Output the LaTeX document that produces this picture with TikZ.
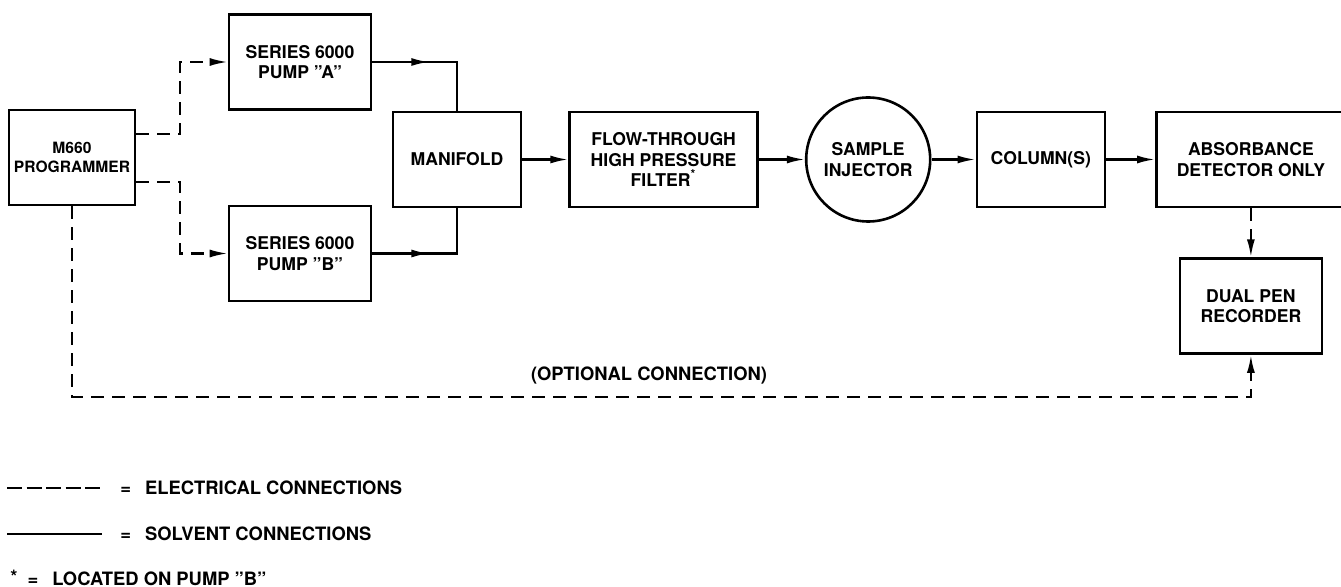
\documentclass[tikz,border=0pt]{standalone}
\usepackage{fontspec}
\setmainfont{TeX Gyre Heros}
\usetikzlibrary{arrows.meta,positioning,calc,decorations.markings}
\tikzset{
  unit/.style={draw,line width=1.3pt,minimum height=47.5pt,align=center,inner sep=2pt,font=\fontsize{8.8}{10.2}\selectfont\bfseries},
  valve/.style={unit,circle,minimum size=62pt},
  solv/.style={line width=1.1pt},
  elec/.style={line width=1.1pt,dash pattern=on 6.5pt off 4pt},
  tip/.style={-{Latex[length=9pt,width=4pt]}},
  midtip/.style={postaction={decorate},decoration={markings,mark=at position #1 with {\arrow{Latex[length=9pt,width=4pt]}}}},
  note/.style={font=\fontsize{9.2}{11}\selectfont\bfseries,inner sep=0pt},
  legdash/.style={line width=1.4pt,dash pattern=on 7.5pt off 2.25pt}
}

\begin{document}
\begin{tikzpicture}[x=0.5pt,y=-0.5pt]
\useasboundingbox (0,0) rectangle (1341,587);
% units of the system
\node[unit,minimum width=63pt,font=\fontsize{7.8}{9.5}\selectfont\bfseries] (prog) at (72,157.5) {M660\\PROGRAMMER};
\node[unit,minimum width=71pt] (pumpA) at (300,62) {SERIES 6000\\PUMP ''A''};
\node[unit,minimum width=71pt] (pumpB) at (300,253.5) {SERIES 6000\\PUMP ''B''};
\node[unit,minimum width=64pt] (manif) at (457,159.5) {MANIFOLD};
\node[unit,minimum width=94pt,right=23pt of manif] (filter) {FLOW-THROUGH\\HIGH PRESSURE\\FILTER\textsuperscript{*}};
\node[valve,right=23pt of filter] (inject) {SAMPLE\\INJECTOR};
\node[unit,minimum width=64pt,right=22pt of inject] (column) {COLUMN(S)};
\node[unit,minimum width=94.5pt,right=24.5pt of column] (detect) {ABSORBANCE\\DETECTOR ONLY};
\node[unit,minimum width=71pt,below=24.5pt of detect] (record) {DUAL PEN\\RECORDER};
\coordinate (split) at (180,157.5);
\coordinate (optc) at (649,397);
\node[note,above=6pt of optc] (optlbl) {(OPTIONAL CONNECTION)};
% electrical
\draw[elec,tip] ([yshift=11.75pt]prog.east) -| (split |- pumpA.west) -- (pumpA.west);
\draw[elec,tip] ([yshift=-12.25pt]prog.east) -| (split |- pumpB.west) -- (pumpB.west);
\draw[elec,tip] (detect) -- (record);
\draw[elec,tip] (prog.south) |- (optc) -| (record.south);
% solvent
\draw[solv,midtip=28.5pt] (pumpA.east) -| (manif.north);
\draw[solv,midtip=28.5pt] (pumpB.east) -| (manif.south);
\draw[solv,tip] (manif) -- (filter);
\draw[solv,tip] (filter) -- (inject);
\draw[solv,tip] (inject) -- (column);
\draw[solv,tip] (column) -- (detect);
% legend
\coordinate (elA) at (7,488); \coordinate (elB) at (101,488);
\coordinate (slA) at (7,534); \coordinate (slB) at (102,534);
\draw[legdash] (elA) -- (elB);
\draw[line width=1.4pt] (slA) -- (slB);
\node[note,anchor=west] (elkey) at (120,488) {=\hspace{7pt}ELECTRICAL CONNECTIONS};
\node[note,anchor=west] (slkey) at (120,534) {=\hspace{7pt}SOLVENT CONNECTIONS};
\node[note,anchor=base west] (astkey) at (10,586) {\raisebox{1pt}{*}\hspace{5pt}=\hspace{7pt}LOCATED ON PUMP ''B''};
\end{tikzpicture}
\end{document}
